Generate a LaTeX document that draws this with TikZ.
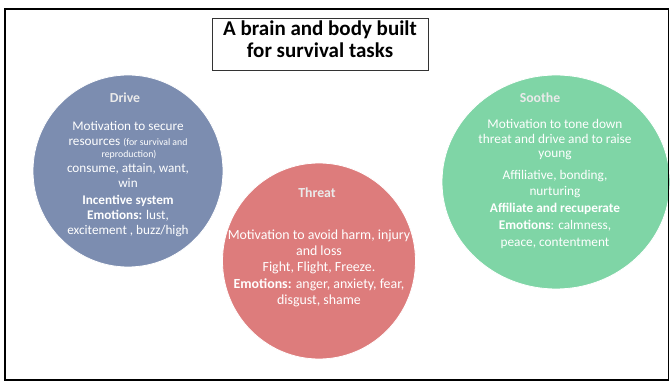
\documentclass[tikz,border=0pt]{standalone}
\usepackage{fontspec}
\setmainfont{Carlito}
\usetikzlibrary{shapes.geometric}
\definecolor{drivefill}{RGB}{124,141,176}
\definecolor{threatfill}{RGB}{221,124,124}
\definecolor{soothefill}{RGB}{127,213,166}
\definecolor{headtext}{RGB}{234,234,234}

\begin{document}
\begin{tikzpicture}[x=1pt,y=-1pt,
  blob/.style={ellipse, inner sep=0pt, draw=white, line width=0.8pt},
  line/.style={anchor=mid, inner sep=0pt, text=white},
  dtxt/.style={line, font=\fontsize{13.2}{15}\selectfont},
  ttxt/.style={line, font=\fontsize{13.9}{16}\selectfont},
  stxt/.style={line, font=\fontsize{13.3}{15}\selectfont},
  small/.style={line, font=\fontsize{9.8}{11}\selectfont},
  head/.style={anchor=mid, inner sep=0pt, text=headtext, font=\bfseries\fontsize{13.8}{15}\selectfont},
  ttl/.style={anchor=mid, inner sep=0pt, font=\bfseries\fontsize{21}{24}\selectfont},
]
\useasboundingbox (0,0) rectangle (670,382);

% three motive systems
\node[blob, fill=drivefill, minimum width=190pt, minimum height=192pt] (drive) at (128,171) {};
\node[blob, fill=threatfill, minimum width=193pt, minimum height=196pt] (threat) at (319,261) {};
\node[blob, fill=soothefill, minimum width=228pt, minimum height=214pt] (soothe) at (556,182) {};

% Drive
\node[head] (dh) at (125,100) {Drive};
\node[dtxt] (d1) at (128,128) {Motivation to secure};
\node[dtxt] (d2) at (128,143) {resources {\fontsize{9.8}{11}\selectfont (for survival and}};
\node[small] (d3) at (129,155) {reproduction)};
\node[dtxt] (d4) at (128,170) {consume, attain, want,};
\node[dtxt] (d5) at (128,185) {win};
\node[dtxt] (d6) at (128,202) {\bfseries Incentive system};
\node[dtxt] (d7) at (128,217) {\textbf{Emotions:} lust,};
\node[dtxt] (d8) at (128,232) {excitement , buzz/high};

% Threat
\node[head] (th) at (317,195) {Threat};
\node[ttxt] (t1) at (319,237) {Motivation to avoid harm, injury};
\node[ttxt] (t2) at (319,253) {and loss};
\node[ttxt] (t3) at (319,269) {Fight, Flight, Freeze.};
\node[ttxt] (t4) at (319,286) {\textbf{Emotions:} anger, anxiety, fear,};
\node[ttxt] (t5) at (319,302) {disgust, shame};

% Soothe
\node[head] (sh) at (540,100) {Soothe};
\node[stxt] (s1) at (555,126) {Motivation to tone down};
\node[stxt] (s2) at (555,141) {threat and drive and to raise};
\node[stxt] (s3) at (555,155) {young};
\node[stxt] (s4) at (555,177) {Affiliative, bonding,};
\node[stxt] (s5) at (555,193) {nurturing};
\node[stxt] (s6) at (555,210) {\bfseries Affiliate and recuperate};
\node[stxt] (s7) at (555,227) {\textbf{Emotions}: calmness,};
\node[stxt] (s8) at (555,244) {peace, contentment};

% title box
\node[draw=black!80, line width=0.8pt, fill=white, minimum width=216pt, minimum height=52pt, inner sep=0pt] (titlebox) at (320,44) {};
\node[ttl] (title1) at (320,33) {A brain and body built};
\node[ttl] (title2) at (320,55) {for survival tasks};

% outer frame
\draw[line width=1.8pt] (5,9) rectangle (668.5,380);
\end{tikzpicture}
\end{document}
